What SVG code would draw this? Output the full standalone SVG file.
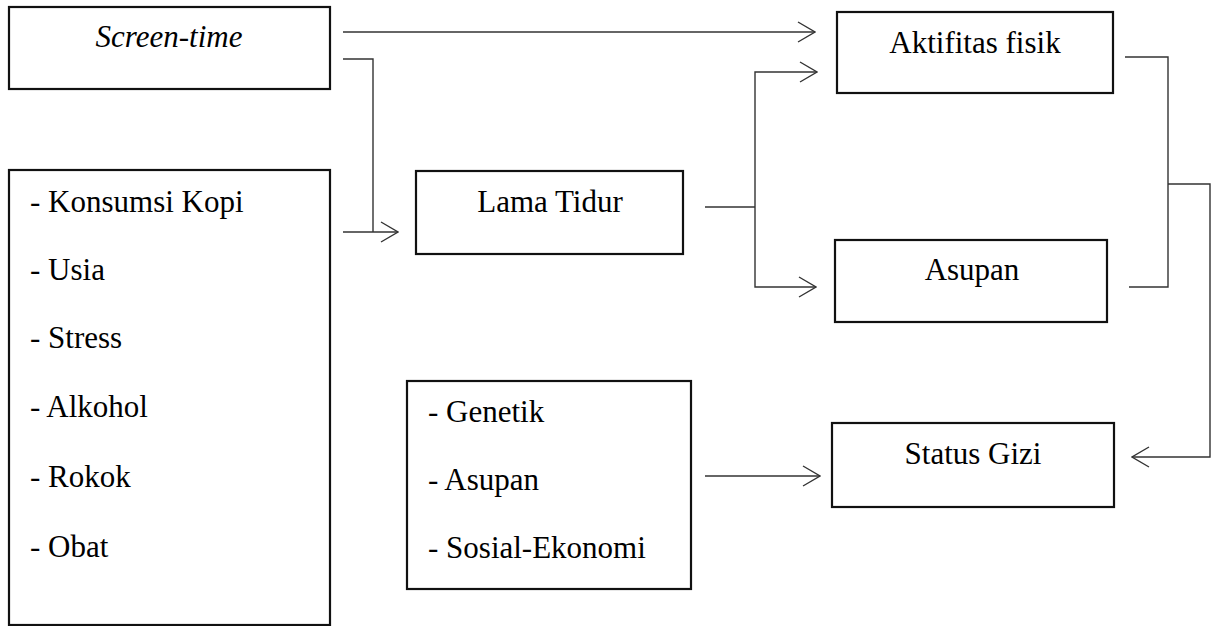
<svg xmlns="http://www.w3.org/2000/svg" width="1213" height="626" viewBox="0 0 1213 626">
<defs>
<style>
.box{fill:#fff;stroke:#111;stroke-width:2.2}
.t{font-family:"Liberation Serif","Times New Roman",Tinos,"Noto Serif","DejaVu Serif",serif;font-size:31px;fill:#000}
.c{text-anchor:middle}
.ln{fill:none;stroke:#333;stroke-width:1.4}
</style>
<marker id="ah" viewBox="0 0 20 24" refX="19" refY="12" markerWidth="20" markerHeight="24" markerUnits="userSpaceOnUse" orient="auto">
<path d="M2,2 L19,12 L2,22" fill="none" stroke="#333" stroke-width="1.4"/>
</marker>
</defs>
<rect width="1213" height="626" fill="#fff"/>
<g id="screen-time">
<rect class="box" x="9" y="7" width="321" height="82"/>
<text class="t c" x="169" y="47" font-style="italic">Screen-time</text>
</g>
<g id="faktor-tidur">
<rect class="box" x="9" y="170" width="321" height="455"/>
<text class="t" x="30" y="212">- Konsumsi Kopi</text>
<text class="t" x="30" y="280">- Usia</text>
<text class="t" x="30" y="348">- Stress</text>
<text class="t" x="30" y="417">- Alkohol</text>
<text class="t" x="30" y="487">- Rokok</text>
<text class="t" x="30" y="557">- Obat</text>
</g>
<g id="lama-tidur">
<rect class="box" x="416" y="171" width="267" height="83"/>
<text class="t c" x="550" y="212">Lama Tidur</text>
</g>
<g id="aktifitas-fisik">
<rect class="box" x="837" y="12" width="276" height="81"/>
<text class="t c" x="975" y="53">Aktifitas fisik</text>
</g>
<g id="asupan">
<rect class="box" x="835" y="240" width="272" height="82"/>
<text class="t c" x="972" y="280">Asupan</text>
</g>
<g id="faktor-gizi">
<rect class="box" x="407" y="381" width="284" height="208"/>
<text class="t" x="428" y="422">- Genetik</text>
<text class="t" x="428" y="490">- Asupan</text>
<text class="t" x="428" y="558">- Sosial-Ekonomi</text>
</g>
<g id="status-gizi">
<rect class="box" x="832" y="423" width="282" height="84"/>
<text class="t c" x="973" y="464">Status Gizi</text>
</g>
<g id="connectors">
<path class="ln" d="M343,32 H815" marker-end="url(#ah)"/>
<path class="ln" d="M343,59 H373 V232"/>
<path class="ln" d="M343,232 H398" marker-end="url(#ah)"/>
<path class="ln" d="M705,207 H755"/>
<path class="ln" d="M755,207 V72 H817" marker-end="url(#ah)"/>
<path class="ln" d="M755,207 V287 H816" marker-end="url(#ah)"/>
<path class="ln" d="M1125,57 H1168 V287 H1129"/>
<path class="ln" d="M1168,184 H1210 V457 H1132" marker-end="url(#ah)"/>
<path class="ln" d="M705,476 H820" marker-end="url(#ah)"/>
</g>
</svg>
